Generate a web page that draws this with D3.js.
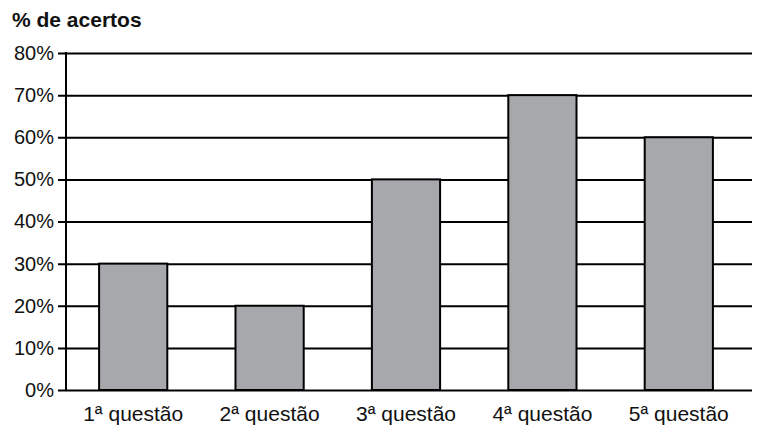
<!DOCTYPE html>
<html>
<head>
<meta charset="utf-8">
<script src="https://cdn.jsdelivr.net/npm/d3@7"></script>
<style>
  body { margin: 0; background: #fff; }
  svg { display: block; font-family: "Liberation Sans", Arial, sans-serif; }
</style>
</head>
<body>
<svg id="chart" width="771" height="435"></svg>
<script>
const questions = ['1ª questão', '2ª questão', '3ª questão', '4ª questão', '5ª questão'];
const acertos = [30, 20, 50, 70, 60];
const yTicks = [0, 10, 20, 30, 40, 50, 60, 70, 80];
const yTitle = '% de acertos';

const axisX = 66;
const gridEnd = 752;
const svg = d3.select('#chart');

const x = d3.scaleBand()
  .domain(questions)
  .range([65, 747])
  .paddingInner(0.5)
  .paddingOuter(0.25);

const y = d3.scaleLinear()
  .domain([0, 80])
  .range([390, 53]);

// grid + y labels
const yAxis = svg.append('g')
  .attr('transform', `translate(${axisX},0)`)
  .call(d3.axisLeft(y).tickValues(yTicks).tickSize(8).tickPadding(4)
    .tickFormat(d => `${d}%`));
yAxis.select('.domain').remove();
yAxis.selectAll('.tick line')
  .attr('x1', gridEnd - axisX)
  .attr('stroke', '#000')
  .attr('stroke-width', 2);
yAxis.selectAll('.tick text')
  .attr('font-size', 20)
  .attr('font-family', '"Liberation Sans", Arial, sans-serif')
  .attr('fill', '#111');

// vertical axis line
svg.append('line')
  .attr('x1', axisX).attr('x2', axisX)
  .attr('y1', y(0) + 1).attr('y2', y(80) - 1)
  .attr('stroke', '#000')
  .attr('stroke-width', 2);

// bars
svg.append('g')
  .selectAll('rect')
  .data(acertos)
  .enter()
  .append('rect')
  .attr('x', (d, i) => x(questions[i]))
  .attr('y', d => y(d))
  .attr('width', x.bandwidth())
  .attr('height', d => y(0) - y(d))
  .attr('fill', '#a7a8ab')
  .attr('stroke', '#000')
  .attr('stroke-width', 2);

// x labels
svg.append('g')
  .selectAll('text')
  .data(questions)
  .enter()
  .append('text')
  .attr('x', d => x(d) + x.bandwidth() / 2)
  .attr('y', 421)
  .attr('text-anchor', 'middle')
  .attr('font-size', 21)
  .attr('fill', '#111')
  .text(d => d);

// title
svg.append('text')
  .attr('x', 12)
  .attr('y', 27)
  .attr('font-size', 21)
  .attr('font-weight', 'bold')
  .attr('fill', '#111')
  .text(yTitle);
</script>
</body>
</html>
